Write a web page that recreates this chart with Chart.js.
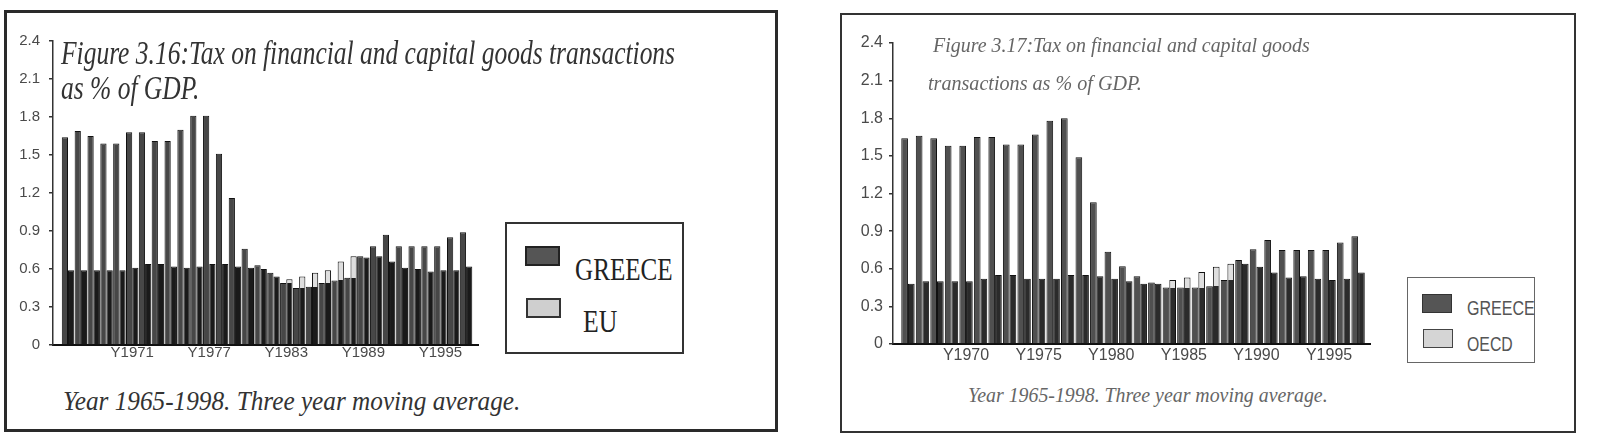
<!DOCTYPE html>
<html>
<head>
<meta charset="utf-8">
<script src="https://cdn.jsdelivr.net/npm/chart.js@4.4.1/dist/chart.umd.min.js"></script>
<style>
  body { margin: 0; width: 1622px; height: 434px; background: #fff; position: relative; overflow: hidden; }
  .box { position: absolute; box-sizing: border-box; }
  .txt { position: absolute; white-space: nowrap; line-height: 1; transform-origin: 0 0; }
  .serif { font-family: "Liberation Serif", "Times New Roman", serif; }
  .it { font-style: italic; }
  .sans { font-family: "Liberation Sans", Arial, sans-serif; }
  .sw { position: absolute; box-sizing: border-box; }
  canvas { position: absolute; top: 0; }
</style>
</head>
<body>

<!-- panel frames -->
<div class="box" style="left:4px;top:10px;width:774px;height:422px;border:3px solid #2a2a2a;"></div>
<div class="box" style="left:840px;top:13px;width:736px;height:420px;border:2px solid #333;"></div>

<canvas id="chart316" width="482" height="380" style="left:0px;"></canvas>
<canvas id="chart317" width="534" height="380" style="left:840px;"></canvas>

<!-- Figure 3.16 texts -->
<div class="txt serif it" id="t316" data-w="614" style="left:61px;top:37px;font-size:33px;color:#333;">Figure 3.16:Tax on financial and capital goods transactions</div>
<div class="txt serif it" data-like="t316" style="left:61px;top:72px;font-size:33px;color:#333;">as % of GDP.</div>
<div class="txt serif it" data-w="457" style="left:63px;top:387px;font-size:28px;color:#333;">Year 1965-1998. Three year moving average.</div>

<div class="box" style="left:505px;top:222px;width:179px;height:132px;border:2px solid #333;"></div>
<div class="sw" style="left:525px;top:246px;width:35px;height:20px;background:#555;border:2px solid #222;"></div>
<div class="sw" style="left:526px;top:298px;width:35px;height:20px;background:#cfcfcf;border:2px solid #333;"></div>
<div class="txt serif" data-w="98" style="left:575px;top:254px;font-size:31px;color:#222;">GREECE</div>
<div class="txt serif" data-w="34" style="left:583px;top:306px;font-size:31px;color:#222;">EU</div>

<!-- Figure 3.17 texts -->
<div class="txt serif it" data-w="377" style="left:933px;top:34px;font-size:22px;color:#666;">Figure 3.17:Tax on financial and capital goods</div>
<div class="txt serif it" data-w="214" style="left:928px;top:72px;font-size:22px;color:#666;">transactions as % of GDP.</div>
<div class="txt serif it" data-w="360" style="left:968px;top:384px;font-size:22px;color:#666;">Year 1965-1998. Three year moving average.</div>

<div class="box" style="left:1407px;top:277px;width:128px;height:86px;border:1.5px solid #666;"></div>
<div class="sw" style="left:1422px;top:294px;width:30px;height:19px;background:#555;border:1.5px solid #333;"></div>
<div class="sw" style="left:1423px;top:329px;width:30px;height:19px;background:#d5d5d5;border:1.5px solid #444;"></div>
<div class="txt sans" data-w="68" style="left:1467px;top:297px;font-size:21px;color:#555;">GREECE</div>
<div class="txt sans" data-w="46" style="left:1467px;top:333px;font-size:21px;color:#555;">OECD</div>

<script>
// data (three year moving average, % of GDP)
var years = [1966, 1967, 1968, 1969, 1970, 1971, 1972, 1973, 1974, 1975, 1976, 1977, 1978, 1979, 1980, 1981,
             1982, 1983, 1984, 1985, 1986, 1987, 1988, 1989, 1990, 1991, 1992, 1993, 1994, 1995, 1996, 1997];

var greece316 = [1.64, 1.69, 1.65, 1.59, 1.59, 1.68, 1.68, 1.61, 1.61, 1.70, 1.81, 1.81, 1.51, 1.16, 0.76, 0.63,
                 0.57, 0.49, 0.45, 0.46, 0.49, 0.51, 0.53, 0.70, 0.78, 0.87, 0.78, 0.78, 0.78, 0.78, 0.85, 0.89];
var eu316 = [0.59, 0.59, 0.59, 0.59, 0.59, 0.61, 0.64, 0.64, 0.62, 0.61, 0.62, 0.64, 0.64, 0.62, 0.61, 0.60,
             0.54, 0.52, 0.54, 0.57, 0.59, 0.66, 0.70, 0.69, 0.70, 0.66, 0.61, 0.60, 0.58, 0.59, 0.59, 0.62];

var greece317 = [1.64, 1.66, 1.64, 1.58, 1.58, 1.65, 1.65, 1.59, 1.59, 1.67, 1.78, 1.80, 1.49, 1.13, 0.735, 0.62,
                 0.54, 0.49, 0.45, 0.45, 0.45, 0.46, 0.51, 0.67, 0.755, 0.83, 0.75, 0.75, 0.75, 0.75, 0.81, 0.86];
var oecd317 = [0.48, 0.50, 0.50, 0.50, 0.50, 0.52, 0.55, 0.55, 0.52, 0.52, 0.52, 0.55, 0.55, 0.54, 0.52, 0.50,
               0.48, 0.48, 0.51, 0.53, 0.575, 0.615, 0.64, 0.64, 0.615, 0.57, 0.53, 0.54, 0.52, 0.51, 0.52, 0.57];

var ticks316 = [1971, 1977, 1983, 1989, 1995];
var ticks317 = [1970, 1975, 1980, 1985, 1990, 1995];

Chart.defaults.font.family = '"Liberation Sans", Arial, sans-serif';

function points(values) {
    return values.map(function (v, i) { return { x: years[i], y: v }; });
}

// back row bar: dark where hidden behind Greece, light where it sticks out above
function exposedFill(front, light, dark) {
    return function (ctx) {
        var chart = ctx.chart;
        var area = chart.chartArea;
        if (!area || ctx.type !== 'data') return dark;
        var yPix = chart.scales.y.getPixelForValue(front[ctx.dataIndex]);
        var t = (yPix - area.top) / (area.bottom - area.top);
        t = Math.min(Math.max(t, 0), 1);
        var g = chart.ctx.createLinearGradient(0, area.top, 0, area.bottom);
        g.addColorStop(0, light);
        g.addColorStop(t, light);
        g.addColorStop(t, dark);
        g.addColorStop(1, dark);
        return g;
    };
}

function makeChart(id, opt) {
    var ctx = document.getElementById(id).getContext('2d');
    return new Chart(ctx, {
        type: 'bar',
        data: {
            datasets: [{
                label: 'GREECE',
                data: points(opt.front),
                backgroundColor: opt.frontColor,
                borderColor: '#111',
                borderWidth: 1
            }, {
                label: opt.backLabel,
                data: points(opt.back),
                backgroundColor: exposedFill(opt.front, '#dedede', opt.backColor),
                borderColor: '#111',
                borderWidth: 1
            }]
        },
        options: {
            responsive: false,
            animation: false,
            categoryPercentage: opt.catPct,
            barPercentage: 1.0,
            layout: { padding: { top: opt.top, right: opt.right, left: 0, bottom: 0 } },
            plugins: { legend: { display: false }, tooltip: { enabled: false } },
            scales: {
                x: {
                    type: 'linear',
                    min: opt.xMin,
                    max: opt.xMax,
                    offset: false,
                    grid: { display: false, drawTicks: false, offset: false },
                    border: { display: true, color: '#111', width: 2 },
                    afterBuildTicks: function (scale) {
                        scale.ticks = opt.ticks.map(function (v) { return { value: v }; });
                    },
                    afterFit: function (scale) { scale.height = opt.xHeight; },
                    ticks: {
                        autoSkip: false,
                        maxRotation: 0,
                        padding: opt.xPad,
                        color: '#4a4a4a',
                        font: { size: opt.fontSize },
                        callback: function (value) { return 'Y' + value; }
                    }
                },
                y: {
                    min: 0,
                    max: 2.4,
                    grid: { drawOnChartArea: false, drawTicks: true, tickLength: 4, color: '#333', lineWidth: 1.5 },
                    border: { display: true, color: '#333', width: 1.5 },
                    afterFit: function (scale) { scale.width = 53; },
                    ticks: {
                        stepSize: 0.3,
                        padding: opt.yPad,
                        color: '#4a4a4a',
                        font: { size: opt.fontSize },
                        callback: function (value) { return value === 0 ? '0' : value.toFixed(1); }
                    }
                }
            }
        }
    });
}

makeChart('chart316', {
    front: greece316, back: eu316, backLabel: 'EU',
    frontColor: '#474747', backColor: '#1a1a1a',
    catPct: 0.97, ticks: ticks316,
    xMin: 1964.83, xMax: 1997.93,
    top: 41, right: 4, xHeight: 35, xPad: -1, yPad: 9, fontSize: 15
});

makeChart('chart317', {
    front: greece317, back: oecd317, backLabel: 'OECD',
    frontColor: '#505050', backColor: '#2b2b2b',
    catPct: 0.92, ticks: ticks317,
    xMin: 1964.97, xMax: 1997.82,
    top: 43, right: 4, xHeight: 36, xPad: 2, yPad: 6, fontSize: 16
});

// squeeze the captions to the width they take in the scanned figure
var scales = {};
document.querySelectorAll('[data-w]').forEach(function (el) {
    var s = +el.getAttribute('data-w') / el.offsetWidth;
    if (el.id) scales[el.id] = s;
    el.style.transform = 'scaleX(' + s + ')';
});
document.querySelectorAll('[data-like]').forEach(function (el) {
    el.style.transform = 'scaleX(' + scales[el.getAttribute('data-like')] + ')';
});
</script>
</body>
</html>
